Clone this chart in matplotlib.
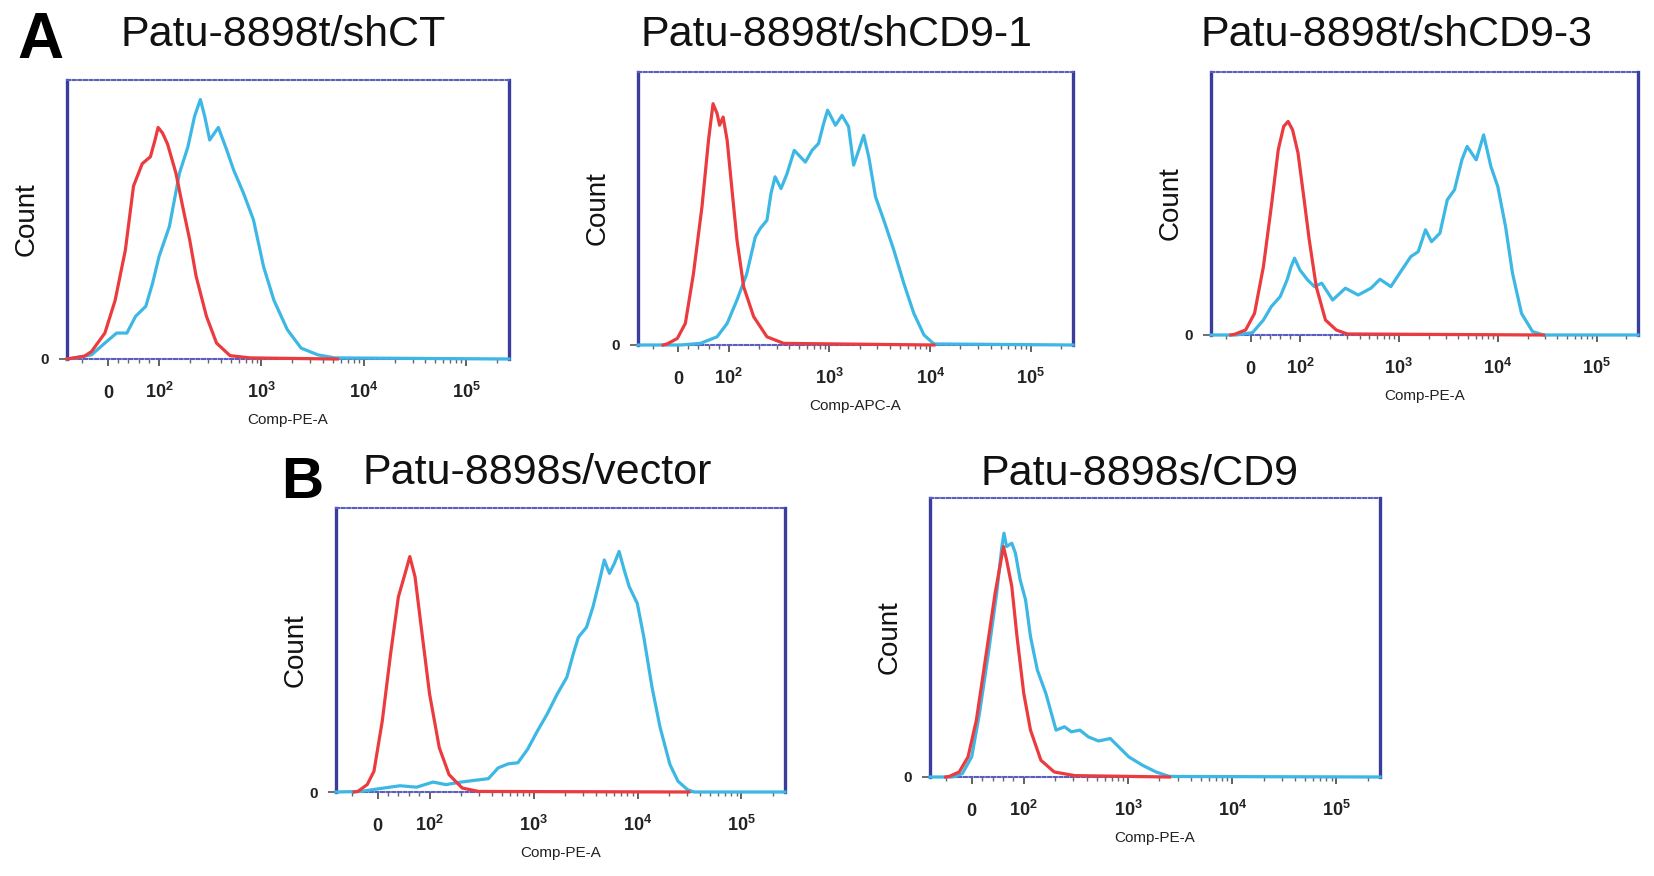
import numpy as np
import matplotlib.pyplot as plt
from matplotlib.transforms import offset_copy

plt.rcParams['font.family'] = ['Liberation Sans', 'DejaVu Sans']
plt.rcParams['mathtext.fontset'] = 'custom'
plt.rcParams['mathtext.rm'] = 'Liberation Sans'
plt.rcParams['mathtext.bf'] = 'Liberation Sans:bold'

# panel texts
titles = ['Patu-8898t/shCT', 'Patu-8898t/shCD9-1', 'Patu-8898t/shCD9-3',
          'Patu-8898s/vector', 'Patu-8898s/CD9']
channels = ['Comp-PE-A', 'Comp-APC-A', 'Comp-PE-A', 'Comp-PE-A', 'Comp-PE-A']
tick_vals = [0, 1e2, 1e3, 1e4, 1e5]
tick_labels = ['0', r'$\mathbf{10^{2}}$', r'$\mathbf{10^{3}}$',
               r'$\mathbf{10^{4}}$', r'$\mathbf{10^{5}}$']

# histograms: fluorescence value vs count (% of frame height)
shct_red_x = [-80, -46, -32, -6, 14, 34, 50, 67, 83, 92, 98, 108, 121, 146, 170, 199,
              230, 290, 364, 493, 778, 5500]
shct_red_y = [0, 1, 2.7, 9.3, 21, 39, 62, 70, 72.5, 78.5, 83, 81, 77, 66.6, 54.6, 42.7,
              29.6, 15.3, 5.7, 1.2, 0.4, 0]
shct_blue_x = [-80, -65, -32, -6, 17, 37, 54, 74, 87, 100, 126, 158, 191, 222, 253, 279,
               312, 379, 457, 534, 668, 835, 1050, 1325, 1790, 2440, 3550, 5220, 262144]
shct_blue_y = [0, 0.4, 1.5, 5.7, 9.3, 9.3, 15.3, 18.9, 27, 36.8, 47.5, 66.6, 76, 87, 93, 87,
               78.5, 83, 75, 67.8, 59.4, 49.9, 33, 21, 10.5, 3.9, 1.5, 0.4, 0]

shcd91_red_x = [-30, -22, -2, 14, 30, 47, 60, 69, 77, 82, 89, 97, 108, 121, 141, 177,
                240, 352, 10900]
shcd91_red_y = [0, 0.4, 2.4, 7.9, 26, 50.6, 75, 88.4, 84.8, 80.5, 83.5, 75, 56.7, 38.4,
                21.3, 10.4, 3, 0.6, 0]
shcd91_blue_x = [-80, 4, 44, 77, 97, 121, 151, 184, 206, 240, 263, 289, 331, 380, 448, 577,
                 673, 780, 875, 960, 1150, 1335, 1550, 1740, 1955, 2190, 2460, 2870, 3470,
                 4360, 5480, 6890, 8680, 10900, 262144]
shcd91_blue_y = [0, 0, 0.6, 3, 7.9, 16.5, 26, 39.6, 42.7, 45.7, 55.5, 61.6, 57.3, 62.8,
                 71.3, 67, 71.3, 73.8, 81, 86, 80.5, 84.1, 80, 65.9, 71.3, 76.8, 68.9, 54.3,
                 45.7, 34.8, 22.6, 11.6, 3.7, 0.4, 0]

shcd93_red_x = [-40, -32, -10, 8, 26, 42, 56, 67, 76, 85, 96, 109, 124, 146, 181, 233,
                300, 29000]
shcd93_red_y = [0, 0.3, 1.9, 8.2, 26, 48.9, 70.4, 79.3, 81.2, 78, 69.2, 52.7, 36.2, 18.4,
                5.7, 1.9, 0.4, 0]
shcd93_blue_x = [-80, -30, 4, 26, 42, 60, 74, 82, 89, 100, 119, 140, 166, 214, 288, 388,
                 522, 644, 830, 1070, 1320, 1570, 1860, 2140, 2600, 3090, 3650, 4340, 4900,
                 6060, 7200, 8520, 10000, 12000, 14100, 17400, 22500, 29000, 262144]
shcd93_blue_y = [0, 0, 0.9, 5.7, 10.8, 14.6, 21, 26, 29.2, 24.7, 21, 18.4, 19.7, 13.3,
                 17.8, 15.2, 17.8, 21.2, 18.4, 24.7, 29.8, 31.7, 40, 35.5, 38.7, 51.4, 55.2,
                 66.6, 71.7, 66.6, 76.1, 64.1, 56.5, 41.2, 23.5, 8.2, 1.3, 0, 0]

vector_red_x = [-45, -38, -20, -7, 9, 25, 40, 53, 62, 72, 84, 100, 124, 154, 206, 296,
                31000]
vector_red_y = [0, 0.2, 2.6, 7.3, 25, 48.6, 68.7, 77, 82.9, 75.8, 58, 34.5, 15.6, 6.1,
                1.4, 0.2, 0]
vector_blue_x = [-80, -32, 12, 43, 75, 108, 144, 192, 257, 368, 457, 569, 707, 875, 1090,
                 1350, 1690, 2090, 2410, 2700, 3230, 3730, 4320, 4790, 5370, 5990, 6650,
                 7440, 8320, 9950, 11500, 13800, 16500, 20500, 24500, 30300, 35000, 262144]
vector_blue_y = [0, 0.2, 1.4, 2.2, 1.7, 3.5, 2.6, 3.4, 4, 4.7, 8.5, 9.9, 10.3, 15, 21.5,
                 27.4, 34.5, 40.4, 48.6, 54.5, 58, 65.2, 74.6, 81.7, 77, 80.5, 84.7, 78.2,
                 72.3, 66.4, 54.5, 36.8, 22.7, 9.7, 3.8, 0.8, 0, 0]

cd9_red_x = [-50, -43, -24, -7, 9, 28, 45, 61, 67, 77, 87, 100, 116, 146, 196, 309, 2500]
cd9_red_y = [0, 0.2, 1.8, 7.2, 20.4, 44.3, 65.9, 82.6, 77.8, 68.3, 50.3, 29.9, 16.8, 6,
             1.8, 0.5, 0]
cd9_blue_x = [-80, -37, -18, 0, 15, 32, 48, 58, 62, 67, 77, 84, 93, 104, 116, 135, 163,
              204, 246, 286, 346, 416, 522, 676, 815, 1020, 1380, 1860, 2500, 262144]
cd9_blue_y = [0, 0, 1.2, 7.2, 22.8, 44.3, 65.9, 82.6, 87.4, 82.6, 83.8, 80.2, 70.7, 63.5,
              50.3, 38.3, 29.9, 16.8, 18, 16.2, 16.8, 14.4, 12.9, 13.8, 10.8, 7.2, 4.2,
              1.8, 0.2, 0]

red_curves = [(shct_red_x, shct_red_y), (shcd91_red_x, shcd91_red_y),
              (shcd93_red_x, shcd93_red_y), (vector_red_x, vector_red_y),
              (cd9_red_x, cd9_red_y)]
blue_curves = [(shct_blue_x, shct_blue_y), (shcd91_blue_x, shcd91_blue_y),
               (shcd93_blue_x, shcd93_blue_y), (vector_blue_x, vector_blue_y),
               (cd9_blue_x, cd9_blue_y)]

# layout in pixels: left, top, right, bottom of each frame
W, H = 1654, 876
boxes = [(67, 80, 509, 359), (638, 72, 1073, 345), (1211, 72, 1638, 335),
         (336, 508, 785, 792), (930, 498, 1380, 777)]
title_pos = [(283, 46), (837, 46), (1396, 46), (537, 484), (1140, 485)]

RED = '#ec3b3e'
CYAN = '#3db7e4'
FRAME = '#3a3d9c'
XMAX = 262144

fig = plt.figure(figsize=(W / 100, H / 100), dpi=100)

minor = [-50, 20, 40, 60, 80] + [m * 10 ** k for k in range(2, 6) for m in range(2, 10)
                                 if m * 10 ** k < XMAX]

for i in range(5):
    L, T, R, B = boxes[i]
    ax = fig.add_axes([L / W, 1 - B / H, (R - L) / W, (B - T) / H])
    ax.set_xscale('symlog', linthresh=100, linscale=0.45)

    bx, by = blue_curves[i]
    rx, ry = red_curves[i]
    ax.plot(bx, by, color=CYAN, lw=2.3, clip_on=False, zorder=3)
    ax.plot(rx, ry, color=RED, lw=2.3, clip_on=False, zorder=4)

    for side in ['left', 'right']:
        ax.spines[side].set_color(FRAME)
        ax.spines[side].set_linewidth(2.4)
    for side in ['top', 'bottom']:
        ax.spines[side].set_color('#5a5ec2')
        ax.spines[side].set_linewidth(1.5)
        ax.spines[side].set_linestyle((0, (1.5, 1.2)))

    ax.set_xticks(tick_vals)
    ax.set_xticks(minor, minor=True)
    ax.set_xticklabels([])
    ax.set_xlim(-80, XMAX)
    ax.set_ylim(0, 100)
    ax.tick_params(axis='x', which='major', direction='out', length=5, width=1.3,
                   color='#555555')
    ax.tick_params(axis='x', which='minor', direction='out', length=3, width=1,
                   color='#666666')
    ax.set_yticks([0])
    ax.set_yticklabels(['0'], fontsize=11, fontweight='bold', color='#222222')
    ax.tick_params(axis='y', length=6, width=1.2, color='#555555', pad=7)

    trans = offset_copy(ax.get_xaxis_transform(), fig=fig, x=0, y=-39, units='dots')
    for v, lab in zip(tick_vals, tick_labels):
        ax.text(v, 0, lab, transform=trans, ha='center', va='baseline', fontsize=13,
                fontweight='bold', color='#222222')
    ltrans = offset_copy(ax.transAxes, fig=fig, x=0, y=-65, units='dots')
    ax.text(0.5, 0, channels[i], transform=ltrans, ha='center', va='baseline',
            fontsize=11, color='#222222')

    fig.text((L - 40) / W, 1 - ((T + B) / 2) / H, 'Count', rotation=90, ha='center',
             va='center', fontsize=20, color='#111111')
    tx, ty = title_pos[i]
    fig.text(tx / W, 1 - ty / H, titles[i], ha='center', va='baseline', fontsize=31,
             color='#111111')

fig.text(40 / W, 1 - 58 / H, 'A', ha='center', va='baseline', fontsize=46,
         fontweight='bold')
fig.text(302 / W, 1 - 498 / H, 'B', ha='center', va='baseline', fontsize=42,
         fontweight='bold')

fig.savefig('out.png', dpi=100, facecolor='white')
